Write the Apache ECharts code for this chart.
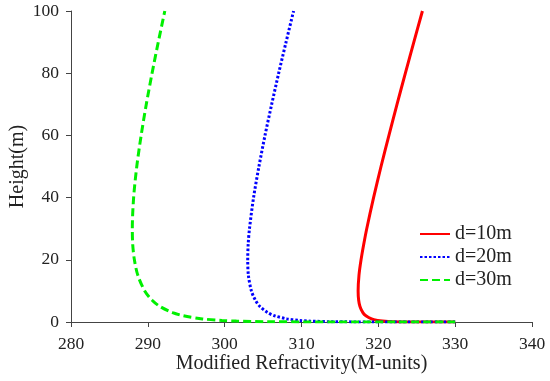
<!DOCTYPE html>
<html>
<head>
<meta charset="utf-8">
<script src="https://cdn.jsdelivr.net/npm/echarts@6/dist/echarts.min.js"></script>
<style>html,body{margin:0;padding:0;background:#fff}#c{width:550px;height:381px}</style>
</head>
<body>
<div id="c"></div>
<script>
var heights = [0, 0.001, 0.01, 0.1, 0.3, 0.5, 1, 2, 3, 5, 7, 10, 15, 20, 25, 30, 40, 50, 60, 70, 80, 90, 100];
var m10 = [330, 327.45, 324.73, 321.88, 320.54, 319.92, 319.12, 318.38, 317.99, 317.61, 317.44, 317.37, 317.48, 317.75, 318.10, 318.49, 319.38, 320.35, 321.38, 322.43, 323.52, 324.62, 325.74];
var m20 = [330, 324.91, 319.46, 313.75, 311.03, 309.78, 308.11, 306.50, 305.61, 304.59, 304.00, 303.48, 303.09, 303.00, 303.06, 303.23, 303.76, 304.46, 305.25, 306.12, 307.03, 307.99, 308.97];
var m30 = [330, 322.36, 314.2, 305.62, 301.53, 299.64, 297.11, 294.63, 293.23, 291.57, 290.56, 289.60, 288.70, 288.25, 288.03, 287.98, 288.15, 288.56, 289.13, 289.80, 290.55, 291.36, 292.21];
var names = ['d=10m', 'd=20m', 'd=30m'];
var xTicks = [280, 290, 300, 310, 320, 330, 340];
var yTicks = [0, 20, 40, 60, 80, 100];

function pairs(ms) { return ms.map(function (m, i) { return [m, heights[i]]; }); }

var font = 'Liberation Serif';
var chart = echarts.init(document.getElementById('c'));
chart.setOption({
  animation: false,
  backgroundColor: '#fff',
  grid: { left: 71, right: 18, top: 11, bottom: 59, containLabel: false, outerBoundsMode: 'none' },
  xAxis: {
    type: 'value', min: xTicks[0], max: xTicks[xTicks.length - 1], interval: 10,
    name: 'Modified Refractivity(M-units)', nameLocation: 'middle', nameGap: 32, nameMoveOverlap: false,
    nameTextStyle: { fontFamily: font, fontSize: 20, color: '#222' },
    axisLine: { show: true, lineStyle: { color: '#444', width: 1 } },
    axisTick: { show: true, inside: false, length: 5, lineStyle: { color: '#444' } },
    axisLabel: { fontFamily: font, fontSize: 17.5, color: '#222', margin: 13 },
    splitLine: { show: false }
  },
  yAxis: {
    type: 'value', min: yTicks[0], max: yTicks[yTicks.length - 1], interval: 20,
    name: 'Height(m)', nameLocation: 'middle', nameGap: 43, nameMoveOverlap: false,
    nameTextStyle: { fontFamily: font, fontSize: 20, color: '#222' },
    axisLine: { show: true, lineStyle: { color: '#444', width: 1 } },
    axisTick: { show: true, inside: false, length: 5, lineStyle: { color: '#444' } },
    axisLabel: { fontFamily: font, fontSize: 17.5, color: '#222', margin: 12 },
    splitLine: { show: false }
  },
  legend: {
    orient: 'vertical', left: 414, top: 219,
    itemWidth: 30, itemHeight: 12, itemGap: 3,
    itemStyle: { opacity: 0 },
    textStyle: { fontFamily: font, fontSize: 20, color: '#222' },
    data: names
  },
  series: [
    { name: names[0], type: 'line', data: pairs(m10), symbol: 'none', smooth: 0.3,
      lineStyle: { color: '#ff0000', width: 3, type: 'solid' }, itemStyle: { color: '#ff0000' } },
    { name: names[1], type: 'line', data: pairs(m20), symbol: 'none', smooth: 0.3,
      lineStyle: { color: '#0000ff', width: 3, type: [2.5, 2], cap: 'butt' }, itemStyle: { color: '#0000ff' } },
    { name: names[2], type: 'line', data: pairs(m30), symbol: 'none', smooth: 0.3,
      lineStyle: { color: '#00f000', width: 3, type: [8, 4], cap: 'butt' }, itemStyle: { color: '#00f000' } }
  ]
});
</script>
</body>
</html>
